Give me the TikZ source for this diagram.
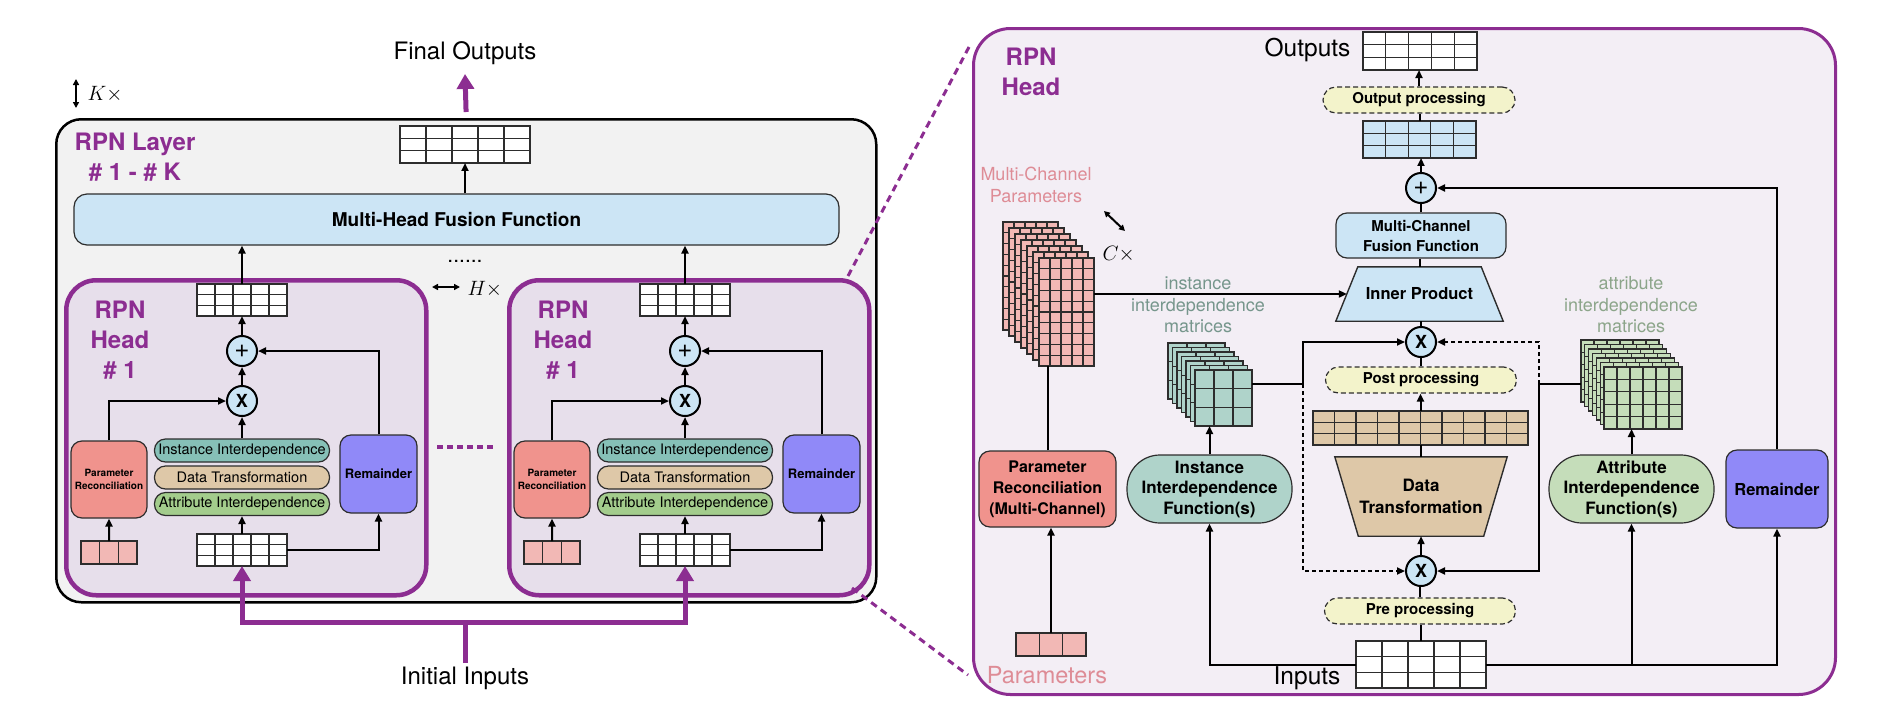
\documentclass[tikz,border=0pt]{standalone}
\usepackage{fontspec}
\setmainfont{TeX Gyre Heros}
\usetikzlibrary{arrows.meta}
\definecolor{rpnpurple}{RGB}{140,45,145}
\definecolor{lblue}{RGB}{204,229,245}
\definecolor{layerbg}{RGB}{242,242,242}
\definecolor{headbg}{RGB}{231,223,235}
\definecolor{panelbg}{RGB}{243,238,245}
\definecolor{tealpill}{RGB}{134,192,183}
\definecolor{tanc}{RGB}{222,200,168}
\definecolor{greenpill}{RGB}{163,204,140}
\definecolor{salmon}{RGB}{240,147,141}
\definecolor{remc}{RGB}{144,137,248}
\definecolor{pinkc}{RGB}{242,184,181}
\definecolor{teallight}{RGB}{175,211,202}
\definecolor{greenlight}{RGB}{197,221,186}
\definecolor{paley}{RGB}{243,243,203}
\definecolor{insttext}{RGB}{118,150,140}
\definecolor{attrtext}{RGB}{140,165,138}
\definecolor{mcptext}{RGB}{222,140,150}
\definecolor{gridc}{RGB}{45,45,45}
\newcommand{\fsz}[2]{\fontsize{#1}{#2}\selectfont}
\newcommand{\mytab}[8]{%
  \pgfmathsetmacro{\tabw}{#4*#6}%
  \pgfmathsetmacro{\tabh}{#5*#7}%
  \pgfmathtruncatemacro{\tabc}{#4-1}%
  \pgfmathtruncatemacro{\tabr}{#5-1}%
  \node[tabnode, fill=#8, minimum width=\tabw pt, minimum height=\tabh pt, anchor=north west] (#1) at (#2,#3) {};%
  \foreach \tabi in {1,...,\tabc}{\draw[tabline] ({#2+\tabi*#6},{#3}) -- ({#2+\tabi*#6},{#3+\tabh});}%
  \ifnum\tabr>0
    \foreach \tabj in {1,...,\tabr}{\draw[tabline] ({#2},{#3+\tabj*#7}) -- ({#2+\tabw},{#3+\tabj*#7});}%
  \fi
}
\tikzset{
  tabnode/.style={draw=gridc, line width=1.1pt, inner sep=0pt, outer sep=0pt},
  tabline/.style={draw=gridc, line width=1.1pt},
  conn/.style={draw=black, line width=2pt},
  arr/.style={conn, -{Triangle[length=8pt,width=7pt]}},
  darr/.style={arr, dash pattern=on 4pt off 3pt},
  pline/.style={draw=rpnpurple, line width=5pt},
  parr/.style={pline, -{Triangle[length=15pt,width=17pt]}},
  pdash/.style={draw=rpnpurple, line width=3pt, dash pattern=on 7pt off 5pt},
  layerbox/.style={draw=black, line width=2.5pt, fill=layerbg, rounded corners=25pt, inner sep=0pt},
  headbox/.style={draw=rpnpurple, line width=4.5pt, fill=headbg, rounded corners=30pt, inner sep=0pt},
  panel/.style={draw=rpnpurple, line width=3pt, fill=panelbg, rounded corners=37pt, inner sep=0pt},
  purplelab/.style={text=rpnpurple, font=\bfseries\fsz{24}{30}, align=center},
  pill/.style={draw=gridc, line width=1.2pt, rounded corners=11pt, minimum width=175pt, minimum height=23pt, inner sep=0pt, font=\fsz{14.5}{17}},
  rbox/.style={draw=gridc, line width=1.2pt, rounded corners=11pt, inner sep=0pt, align=center},
  dpill/.style={draw=gridc, line width=1.2pt, dash pattern=on 5pt off 3pt, fill=paley, rounded corners=13pt, minimum width=192pt, minimum height=26pt, inner sep=0pt, font=\bfseries\fsz{15}{18}},
  stadium/.style={draw=gridc, line width=1.2pt, rounded corners=33pt, minimum width=165pt, minimum height=68pt, inner sep=0pt, align=center, font=\bfseries\fsz{17}{20.5}},
  opnode/.style={circle, draw=black, line width=2pt, fill=lblue, minimum size=30pt, inner sep=0pt},
  plussym/.style={opnode, font=\fsz{26}{26}},
  timessym/.style={opnode, font=\bfseries\fsz{18}{18}},
  dblarr/.style={draw=black, line width=2pt, {Triangle[length=6pt,width=6pt]}-{Triangle[length=6pt,width=6pt]}},
  trapborder/.style={draw=gridc, line width=1.4pt},
}
\begin{document}
\begin{tikzpicture}[x=1pt,y=-1pt]
\useasboundingbox (0,0) rectangle (1884,718);

% ===================== LEFT: RPN layer =====================
\node[font=\fsz{24}{29}] (fout) at (465,53) {Final Outputs};
\coordinate (fotip) at (465,74);
\coordinate (k1) at (76,79);
\coordinate (k2) at (76,108);
\draw[dblarr] (k1) -- (k2);
\node[anchor=west, font=\fsz{22}{22}] (ktxt) at (84,94) {$K\times$};

\node[layerbox, minimum width=820pt, minimum height=483pt, anchor=north west] (layer) at (55,118) {};
\draw[parr, shorten <=6pt] (layer.north) -- (fotip);

\node[purplelab] (laylab) at (135,157) {RPN Layer\\\# 1 - \# K};
\mytab{lout}{400}{126}{5}{3}{26}{12.33}{white}
\node[rbox, fill=lblue, rounded corners=13pt, minimum width=765pt, minimum height=51pt, font=\bfseries\fsz{19}{23}] (fusion) at (456.5,219.5) {Multi-Head Fusion Function};
\draw[arr] (fusion.north -| lout.south) -- (lout.south);

\foreach \o/\n in {0/a,443/b}{
  \node[headbox, minimum width=360pt, minimum height=315pt, anchor=north west] (head\n) at (64+\o,278) {};
  \node[purplelab] (hlab\n) at (120+\o,340) {RPN\\Head\\\# 1};
  \mytab{hout\n}{197+\o}{284}{5}{3}{18}{10.67}{white}
  \node[plussym] (plus\n) at (242+\o,351) {+};
  \node[timessym] (mul\n) at (242+\o,401) {X};
  \node[pill, fill=tealpill] (inst\n) at (242+\o,450.5) {Instance Interdependence};
  \node[pill, fill=tanc] (dt\n) at (242+\o,477.5) {Data Transformation};
  \node[pill, fill=greenpill] (attr\n) at (242+\o,504) {Attribute Interdependence};
  \node[rbox, fill=salmon, minimum width=76pt, minimum height=77pt, font=\bfseries\fsz{10}{13}] (prm\n) at (109+\o,479.5) {Parameter\\Reconciliation};
  \node[rbox, fill=remc, minimum width=77pt, minimum height=78pt, font=\bfseries\fsz{13}{16}] (rem\n) at (378.5+\o,474) {Remainder};
  \mytab{pk\n}{81+\o}{541}{3}{1}{18.67}{23}{pinkc}
  \mytab{hin\n}{197+\o}{534}{5}{3}{18}{10.67}{white}
  \draw[arr] (mul\n) -- (plus\n);
  \draw[arr] (plus\n.north) -- (hout\n.south);
  \draw[arr] (inst\n.north) -- (mul\n.south);
  \draw[arr] (prm\n.north) |- (mul\n.west);
  \draw[arr] (rem\n.north) |- (plus\n.east);
  \draw[arr] (pk\n.north) -- (prm\n.south);
  \draw[arr] (hin\n.north) -- (attr\n.south);
  \draw[arr] (hin\n.east) -| (rem\n.south);
  \draw[arr] (hout\n.north) -- (hout\n.north |- fusion.south);
}

\node[font=\fsz{21}{21}] (dots) at (465,261) {......};
\coordinate (hx1) at (432,287);
\coordinate (hx2) at (460,287);
\draw[dblarr] (hx1) -- (hx2);
\node[anchor=west, font=\fsz{22}{22}] (htxt) at (464,289) {$H\times$};
\coordinate (pd1) at (437,447);
\coordinate (pd2) at (493,447);
\draw[draw=rpnpurple, line width=4pt, dash pattern=on 6pt off 4pt] (pd1) -- (pd2);

\node[font=\fsz{24}{29}] (init) at (465,678) {Initial Inputs};
\coordinate (ib) at (465,622);
\draw[pline] (init.north) -- (ib);
\draw[parr] (ib) -| (hina.south);
\draw[parr] (ib) -| (hinb.south);

% zoom lines
\coordinate (z1) at (848,276);
\coordinate (z2) at (969,47);
\coordinate (z3) at (852,588);
\coordinate (z4) at (968,675);
\draw[pdash] (z1) -- (z2);
\draw[pdash] (z3) -- (z4);

% ===================== RIGHT: RPN head =====================
\node[panel, minimum width=862pt, minimum height=666pt, anchor=north west] (rp) at (972,27) {};
\node[purplelab] (rlab) at (1031,72) {RPN\\Head};
\node[anchor=east, font=\fsz{24.5}{29}] (outs) at (1354,50) {Outputs};
\mytab{rout}{1363}{32}{5}{3}{22.8}{12.67}{white}
\node[dpill] (oproc) at (1419,100) {Output processing};
\mytab{rblue}{1363}{121}{5}{3}{22.6}{12.33}{lblue}
\node[plussym] (rplus) at (1421,188) {+};
\node[rbox, fill=lblue, minimum width=170pt, minimum height=45pt, font=\bfseries\fsz{15}{20}] (mcf) at (1421,235.5) {Multi-Channel\\Fusion Function};
\node[minimum width=167pt, minimum height=54pt, inner sep=0pt] (ip) at (1419.5,294) {};
\draw[trapborder, fill=lblue] (ip.south west) -- (ip.south east) -- ([xshift=-22pt]ip.north east) -- ([xshift=22pt]ip.north west) -- cycle;
\node[font=\bfseries\fsz{16.5}{20}] (iptxt) at (ip.center) {Inner Product};
\coordinate (ipl) at ([xshift=11pt]ip.west);
\node[timessym] (rmul1) at (1421,342) {X};
\node[dpill, minimum width=191pt] (post) at (1421,380) {Post processing};
\mytab{rtan}{1313}{411}{10}{3}{21.5}{11.33}{tanc}
\node[minimum width=172pt, minimum height=79pt, inner sep=0pt] (dtr) at (1421,496.5) {};
\draw[trapborder, fill=tanc] (dtr.north west) -- (dtr.north east) -- ([xshift=-23.5pt]dtr.south east) -- ([xshift=23.5pt]dtr.south west) -- cycle;
\node[font=\bfseries\fsz{17}{22}, align=center] (dttxt) at (dtr.center) {Data\\Transformation};
\node[timessym] (rmul2) at (1421,571) {X};
\node[dpill, minimum width=191pt] (pre) at (1420,611) {Pre processing};
\mytab{rin}{1356}{641}{5}{3}{26}{15.67}{white}
\node[anchor=east, font=\fsz{24.5}{29}] (inputs) at (1344,678) {Inputs};

% multi-channel parameters
\node[text=mcptext, font=\fsz{18}{22.5}, align=center] (mcp) at (1036,185) {Multi-Channel\\Parameters};
\coordinate (c1) at (1104,211);
\coordinate (c2) at (1125,231);
\draw[dblarr] (c1) -- (c2);
\node[anchor=west, font=\fsz{22}{22}] (ctxt) at (1099,254) {$C\times$};
\foreach \k in {0,...,6}{\mytab{ps\k}{1003+\k*6}{222+\k*6}{5}{10}{11}{10.8}{pinkc}}
\node[rbox, fill=salmon, minimum width=137pt, minimum height=76pt, font=\bfseries\fsz{16}{21}] (rprm) at (1047.5,489) {Parameter\\Reconciliation\\(Multi-Channel)};
\mytab{rpk}{1016}{633}{3}{1}{23.33}{23}{pinkc}
\node[text=mcptext, font=\fsz{23.5}{28}] (params) at (1047,675) {Parameters};

% instance
\node[text=insttext, font=\fsz{18}{21.5}, align=center] (itxt) at (1198,305) {instance\\interdependence\\matrices};
\foreach \k in {0,...,6}{\mytab{ts\k}{1168+\k*4.5}{343+\k*4.5}{3}{3}{19}{18.67}{teallight}}
\node[stadium, fill=teallight] (ifn) at (1209.5,489) {Instance\\Interdependence\\Function(s)};

% attribute
\node[text=attrtext, font=\fsz{18}{21.5}, align=center] (atxt) at (1631,305) {attribute\\interdependence\\matrices};
\foreach \k in {0,...,6}{\mytab{gs\k}{1581+\k*3.83}{340+\k*4.5}{6}{5}{13}{12.4}{greenlight}}
\node[stadium, fill=greenlight] (afn) at (1631.5,489) {Attribute\\Interdependence\\Function(s)};

\node[rbox, fill=remc, minimum width=102pt, minimum height=78pt, font=\bfseries\fsz{16.5}{20}] (rrem) at (1777,489) {Remainder};

% connectors right
\draw[arr] (oproc.north) -- (oproc.north |- rout.south);
\draw[conn] (rblue.north) -- (rblue.north |- oproc.south);
\draw[arr] (rplus.north) -- (rplus.north |- rblue.south);
\draw[conn] (mcf.north) -- (rplus.south);
\draw[conn] (ip.north) -- (ip.north |- mcf.south);
\draw[conn] (rmul1.north) -- (rmul1.north |- ip.south);
\draw[conn] (rmul1.south) -- (post.north);
\draw[arr] (rtan.north) -- (rtan.north |- post.south);
\draw[conn] (dtr.north) -- (dtr.north |- rtan.south);
\draw[arr] (rmul2.north) -- (dtr.south);
\draw[conn] (pre.north) -- (pre.north |- rmul2.south);
\draw[conn] (rin.north) -- (rin.north |- pre.south);
\draw[arr] (ps6.east |- ipl) -- (ipl);
\draw[conn] (rprm.north) -- (rprm.north |- ps6.south);
\draw[arr] (rpk.north) -- (rpk.north |- rprm.south);
\draw[arr] (rin.west) -| (ifn.south);
\draw[arr] (rin.east) -| (rrem.south);
\draw[arr] (afn.south |- rin.east) -- (afn.south);
\draw[arr] (ifn.north) -- (ifn.north |- ts6.south);
\draw[arr] (afn.north) -- (afn.north |- gs6.south);
\draw[arr] (rrem.north) |- (rplus.east);
\coordinate (ji) at (1303,384);
\coordinate (ja) at (1539,384);
\draw[conn, line width=2.5pt] (ts6.east |- ji) -- (ji);
\draw[arr] (ji) |- (rmul1.west);
\draw[darr] (ji) |- (rmul2.west);
\draw[conn, line width=2.5pt] (gs0.west |- ja) -- (ja);
\draw[arr] (ja) |- (rmul2.east);
\draw[darr] (ja) |- (rmul1.east);
\end{tikzpicture}
\end{document}
